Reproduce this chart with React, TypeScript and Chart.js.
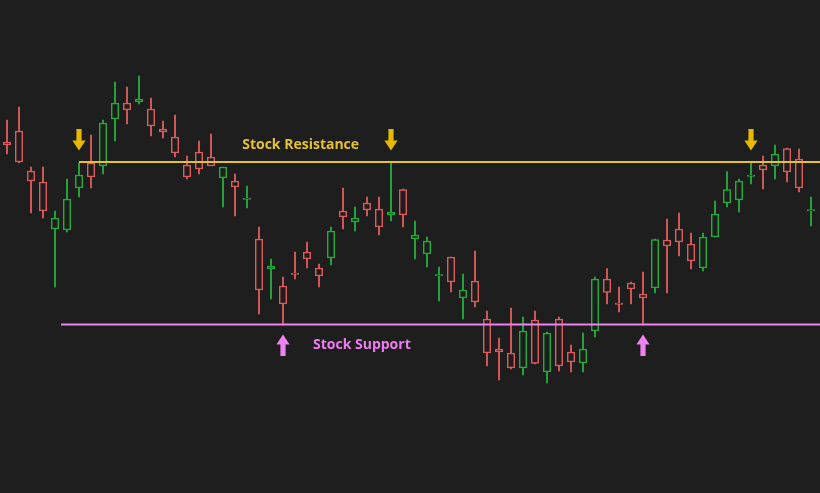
import React, { useEffect, useRef } from "react";
import { Chart, registerables } from "chart.js";

Chart.register(...registerables);

// OHLC values (price units)
const opens = [351, 362, 322, 311, 264, 263, 305, 330, 327, 374, 390, 391, 384, 364, 356, 328, 341, 336, 315, 312, 293.5, 254, 224, 207, 219, 241, 225, 235, 282, 271, 290, 284, 278, 303.5, 254, 239, 217, 236, 195, 212, 174, 144, 140, 125, 173, 121, 174, 141, 130, 162, 214, 189, 210, 199, 205, 253, 264, 249, 225, 256, 290, 293, 316.5, 328, 327, 344.5, 334, 282];
const highs = [373, 386, 326, 326, 282, 314, 330, 358, 373, 411, 406, 417, 395, 372, 378, 337, 352, 359, 326, 319, 307, 266, 234, 216, 241, 251, 229, 266, 305, 286, 296, 296, 330, 304, 272, 256, 226, 236, 219, 242, 182, 155, 185, 176, 182, 161, 176, 148, 160, 216, 224.5, 206, 211, 221, 254, 274, 280, 260, 260, 292, 321.5, 314, 330, 337, 348, 345, 344, 296];
const lows = [339, 330, 280, 275, 206, 261, 296, 305, 319, 352, 369, 389, 357, 355, 336, 314, 319, 327, 286, 277, 285, 179, 194, 169, 214, 225, 206, 228, 264, 262, 277, 258, 272, 266, 234, 226, 192, 201, 174, 186, 127, 113, 124, 118, 129, 110, 122, 121, 121, 156, 189, 181, 189, 169, 200, 200, 237, 224, 222, 256, 286, 281, 309, 304, 314, 311, 301, 267];
const closes = [348, 331, 312, 282, 275, 294, 318, 316, 370, 390, 383, 394, 367, 361, 340, 316, 324, 327, 326, 306, 294, 203, 227, 189, 218.5, 234, 217, 262, 276, 275, 283, 266, 281, 278, 258, 252, 217.5, 211, 203, 191, 140, 141, 125, 162, 129.5, 160, 127, 131, 144, 214, 200.5, 188.5, 204, 195, 253.5, 247, 251, 232, 256, 279, 303.5, 312, 317, 323, 339, 321, 305, 282.5];

const categories = opens.map((_, i) => `Day ${i + 1}`);

// Horizontal levels
const resistanceLevel = 331;
const resistanceStart = 6; // candle index
const supportLevel = 168.5;
const supportStart = 4.5;

// Markers (candle index, price of arrow tip)
const resistanceArrows = [6, 32, 62];
const resistanceArrowTip = 342.5;
const supportArrows = [23, 53];
const supportArrowTip = 158.5;

const labelTexts = ["Stock Resistance", "Stock Support"];
const labelIndex = [19.6, 25.5];
const labelPrice = [348.3, 147.5];

const BG = "#1e1e1e";
const UP = "#25ab3c";
const DOWN = "#dc5c5b";
const YELLOW = "#e6c12e";
const ARROW_YELLOW = "#e7b800";
const PINK = "#ee82ee";
const PINK_TEXT = "#f07cf0";

const overlayPlugin = {
  id: "overlay",
  afterDatasetsDraw(chart: any) {
    const ctx = chart.ctx;
    const xs = chart.scales.x;
    const ys = chart.scales.y;
    ctx.save();
    const drawLevel = (start: number, level: number, color: string) => {
      const y = ys.getPixelForValue(level);
      ctx.strokeStyle = color;
      ctx.lineWidth = 2;
      ctx.beginPath();
      ctx.moveTo(xs.getPixelForValue(start), y);
      ctx.lineTo(chart.width, y);
      ctx.stroke();
    };
    drawLevel(resistanceStart, resistanceLevel, YELLOW);
    drawLevel(supportStart, supportLevel, PINK);

    const arrow = (cx: number, tipY: number, dir: number, color: string) => {
      const headW = 6.6;
      const headL = 10;
      const shaftW = 2.6;
      const total = 21.5;
      ctx.fillStyle = color;
      ctx.beginPath();
      ctx.moveTo(cx, tipY);
      ctx.lineTo(cx + headW, tipY - dir * headL);
      ctx.lineTo(cx + shaftW, tipY - dir * headL);
      ctx.lineTo(cx + shaftW, tipY - dir * total);
      ctx.lineTo(cx - shaftW, tipY - dir * total);
      ctx.lineTo(cx - shaftW, tipY - dir * headL);
      ctx.lineTo(cx - headW, tipY - dir * headL);
      ctx.closePath();
      ctx.fill();
    };
    resistanceArrows.forEach((i) =>
      arrow(xs.getPixelForValue(i), ys.getPixelForValue(resistanceArrowTip), 1, ARROW_YELLOW)
    );
    supportArrows.forEach((i) =>
      arrow(xs.getPixelForValue(i), ys.getPixelForValue(supportArrowTip), -1, PINK)
    );

    ctx.font = 'bold 14px "Open Sans"';
    ctx.textBaseline = "middle";
    ctx.textAlign = "left";
    const colors = [YELLOW, PINK_TEXT];
    labelTexts.forEach((t, k) => {
      ctx.fillStyle = colors[k];
      ctx.fillText(t, xs.getPixelForValue(labelIndex[k]), ys.getPixelForValue(labelPrice[k]));
    });
    ctx.restore();
  },
};

export default function App() {
  const ref = useRef<HTMLCanvasElement>(null);
  useEffect(() => {
    const colors = opens.map((o, i) => (closes[i] >= o ? UP : DOWN));
    const chart = new Chart(ref.current as HTMLCanvasElement, {
      type: "bar",
      data: {
        labels: categories,
        datasets: [
          {
            label: "Body",
            data: opens.map((o, i) => [Math.min(o, closes[i]), Math.max(o, closes[i])]) as any,
            backgroundColor: BG,
            borderColor: colors,
            borderWidth: 1.5,
            borderSkipped: false,
            barThickness: 7.5,
            minBarLength: 1.5,
            grouped: false,
          } as any,
          {
            label: "Wick",
            data: lows.map((l, i) => [l, highs[i]]) as any,
            backgroundColor: colors,
            borderWidth: 0,
            barThickness: 1.2,
            grouped: false,
          } as any,
        ],
      },
      options: {
        animation: false,
        responsive: true,
        maintainAspectRatio: false,
        layout: { padding: { left: 1, right: 3, top: 0, bottom: 0 } },
        plugins: { legend: { display: false }, tooltip: { enabled: false } },
        scales: {
          x: { display: false, offset: true, grid: { display: false } },
          y: { display: false, min: 0, max: 493 },
        },
      },
      plugins: [overlayPlugin],
    });
    return () => chart.destroy();
  }, []);
  return (
    <div style={{ position: "fixed", left: 0, top: 0, width: 820, height: 493, background: BG }}>
      <canvas ref={ref} />
    </div>
  );
}
